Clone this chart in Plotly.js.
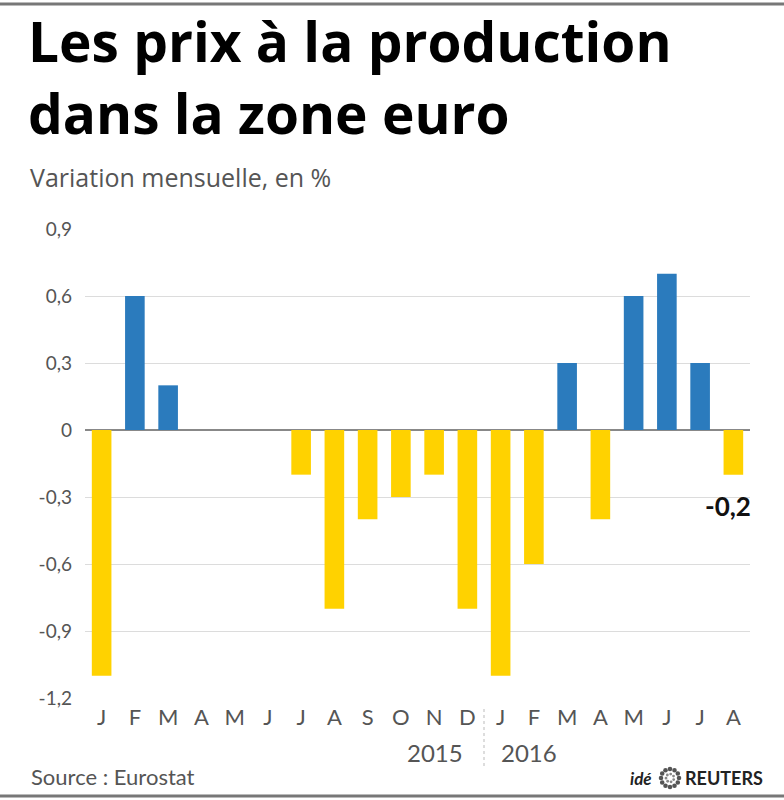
<!DOCTYPE html>
<html>
<head>
<meta charset="utf-8">
<script src="https://cdn.plot.ly/plotly-3.0.1.min.js"></script>
<style>html,body{margin:0;padding:0;background:#fff;}#chart{width:784px;height:800px;} text{font-variant-ligatures:none;}</style>
</head>
<body>
<div id="chart"></div>
<script>
// Data
var categories = ['2015-01','2015-02','2015-03','2015-04','2015-05','2015-06','2015-07','2015-08','2015-09','2015-10','2015-11','2015-12',
                  '2016-01','2016-02','2016-03','2016-04','2016-05','2016-06','2016-07','2016-08'];
var monthLabels = ['J','F','M','A','M','J','J','A','S','O','N','D','J','F','M','A','M','J','J','A'];
var values = [-1.1, 0.6, 0.2, 0, 0, 0, -0.2, -0.8, -0.4, -0.3, -0.2, -0.8, -1.1, -0.6, 0.3, -0.4, 0.6, 0.7, 0.3, -0.2];
var yTickVals = [0.9, 0.6, 0.3, 0, -0.3, -0.6, -0.9, -1.2];
var yTickText = ['0,9', '0,6', '0,3', '0', '-0,3', '-0,6', '-0,9', '-1,2'];
var years = ['2015', '2016'];
var lastLabel = '-0,2';

var BLUE = '#2b7bbd', YELLOW = '#ffd200';
var colors = values.map(function (v) { return v >= 0 ? BLUE : YELLOW; });

// layout geometry (pixels)
var W = 784, H = 800, L = 85, R = 34, T = 229, B = 102;
var pw = W - L - R, ph = H - T - B;
function px(x) { return (x - L) / pw; }
function py(y) { return (H - B - y) / ph; }

var TFONT = '"Open Sans", "Noto Sans", sans-serif';
var FONT = 'Lato, "Open Sans", sans-serif';

var trace = {
  type: 'bar',
  x: categories,
  y: values,
  marker: { color: colors, line: { width: 0 } },
  hoverinfo: 'skip'
};

var annotations = [
  { text: '<b>Les prix à la production<br>dans la zone euro</b>', xref: 'paper', yref: 'paper', x: px(27), y: py(76), xanchor: 'left', yanchor: 'middle', align: 'left', showarrow: false, borderpad: 0, font: { family: TFONT, size: 55, color: '#000' } },
  { text: 'Variation mensuelle, en %', xref: 'paper', yref: 'paper', x: px(28), y: py(177), xanchor: 'left', yanchor: 'middle', showarrow: false, font: { family: TFONT, size: 25, color: '#555' } },
  { text: '<b>' + lastLabel + '</b>', xref: 'x', yref: 'paper', x: categories[categories.length - 1], y: py(506), xanchor: 'center', yanchor: 'middle', xshift: -5, showarrow: false, font: { family: FONT, size: 26, color: '#111' } },
  { text: years[0], xref: 'x', yref: 'paper', x: 11.5, y: py(752), xanchor: 'right', yanchor: 'middle', xshift: -19, showarrow: false, font: { family: FONT, size: 24, color: '#555' } },
  { text: years[1], xref: 'x', yref: 'paper', x: 11.5, y: py(752), xanchor: 'left', yanchor: 'middle', xshift: 15, showarrow: false, font: { family: FONT, size: 24, color: '#555' } },
  { text: 'Source : Eurostat', xref: 'paper', yref: 'paper', x: px(29), y: py(776), xanchor: 'left', yanchor: 'middle', showarrow: false, font: { family: FONT, size: 22, color: '#555' } },
  { text: '<b><i>idé</i></b>', xref: 'paper', yref: 'paper', x: px(654), y: py(778), xanchor: 'right', yanchor: 'middle', showarrow: false, font: { family: FONT, size: 17, color: '#222' } },
  { text: '<b>REUTERS</b>', xref: 'paper', yref: 'paper', x: px(683), y: py(778), xanchor: 'left', yanchor: 'middle', showarrow: false, font: { family: FONT, size: 18, color: '#222' } }
];

var shapes = [
  { type: 'line', xref: 'paper', yref: 'paper', x0: px(0), x1: px(W), y0: py(4), y1: py(4), line: { color: '#777', width: 3 } },
  { type: 'line', xref: 'paper', yref: 'paper', x0: px(0), x1: px(W), y0: py(796), y1: py(796), line: { color: '#777', width: 3 } },
  { type: 'line', xref: 'x', yref: 'paper', x0: 11.5, x1: 11.5, y0: py(709), y1: py(766), line: { color: '#bbb', width: 1, dash: 'dot' } }
];
// Reuters dotted logo ring
var cx = 670, cy = 778;
for (var k = 0; k < 12; k++) {
  var a = k * Math.PI * 2 / 12;
  var dx = cx + 9 * Math.cos(a), dy = cy + 9 * Math.sin(a);
  shapes.push({ type: 'circle', xref: 'paper', yref: 'paper', x0: px(dx - 2.3), x1: px(dx + 2.3), y0: py(dy + 2.3), y1: py(dy - 2.3), fillcolor: '#555', line: { width: 0 } });
}
for (var k2 = 0; k2 < 7; k2++) {
  var a2 = k2 * Math.PI * 2 / 7 + 0.4;
  var dx2 = cx + 4 * Math.cos(a2), dy2 = cy + 4 * Math.sin(a2);
  shapes.push({ type: 'circle', xref: 'paper', yref: 'paper', x0: px(dx2 - 1.4), x1: px(dx2 + 1.4), y0: py(dy2 + 1.4), y1: py(dy2 - 1.4), fillcolor: '#888', line: { width: 0 } });
}

var layout = {
  width: W, height: H,
  margin: { l: L, r: R, t: T, b: B, pad: 0 },
  paper_bgcolor: '#fff', plot_bgcolor: '#fff',
  showlegend: false,
  bargap: 0.41,
  font: { family: FONT, color: '#555' },
  xaxis: {
    type: 'category',
    range: [-0.5, 19.5],
    tickmode: 'array', tickvals: categories, ticktext: monthLabels,
    tickfont: { family: FONT, size: 22, color: '#555' },
    showgrid: false, zeroline: false, showline: false, ticks: '',
    ticklabelstandoff: 4,
    fixedrange: true
  },
  yaxis: {
    range: [-1.2, 0.9],
    tickmode: 'array', tickvals: yTickVals, ticktext: yTickText,
    tickfont: { family: FONT, size: 19, color: '#555' },
    showgrid: true, gridcolor: '#dcdcdc', gridwidth: 1,
    zeroline: true, zerolinecolor: '#888', zerolinewidth: 2,
    showline: false, ticks: '',
    ticklabelstandoff: 12,
    fixedrange: true
  },
  annotations: annotations,
  shapes: shapes
};

Plotly.newPlot('chart', [trace], layout, { displayModeBar: false, staticPlot: true });
</script>
</body>
</html>
